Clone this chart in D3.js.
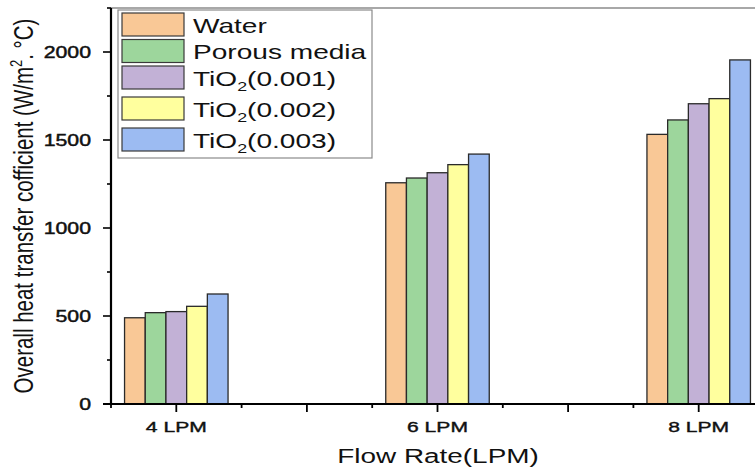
<!DOCTYPE html>
<html>
<head>
<meta charset="utf-8">
<script src="https://cdn.jsdelivr.net/npm/d3@7"></script>
<style>
  body { margin: 0; background: #fff; }
  svg { display: block; font-family: "Liberation Sans", Arial, sans-serif; }
</style>
</head>
<body>
<svg id="chart"></svg>
<script>
// data
const flowRates = [4, 6, 8];
const flowLabels = ["4 LPM", "6 LPM", "8 LPM"];
const seriesNames = ["Water", "Porous media", "TiO2(0.001)", "TiO2(0.002)", "TiO2(0.003)"];
const seriesColors = ["#f9c896", "#9dd69c", "#c2b1d6", "#ffff9e", "#9cbbf2"];
const water = [490, 1257, 1532];
const porousMedia = [519, 1284, 1614];
const tio2_001 = [525, 1314, 1706];
const tio2_002 = [555, 1360, 1735];
const tio2_003 = [625, 1420, 1955];
const seriesValues = [water, porousMedia, tio2_001, tio2_002, tio2_003];
const yMajorTicks = [0, 500, 1000, 1500, 2000];

const W = 755, H = 470;
const stretch = 1.33; // text in the original is drawn wider than tall

const svg = d3.select("#chart").attr("width", W).attr("height", H);

// scales
const x = d3.scaleLinear().domain([3.5, 8.5]).range([111, 764]);
const y = d3.scaleLinear().domain([0, 2250]).range([404, 8]);
const groupHalf = 51.75;
const inner = d3.scaleBand().domain(d3.range(seriesNames.length)).range([-groupHalf, groupHalf]);

// top frame line
svg.append("line")
    .attr("x1", x(3.5)).attr("x2", W)
    .attr("y1", y(2250)).attr("y2", y(2250))
    .attr("stroke", "#a8a8a8").attr("stroke-width", 2);

// bars
const rows = flowRates.map((f, i) => ({flow: f, values: seriesValues.map(s => s[i])}));
const groups = svg.append("g").selectAll("g")
    .data(rows)
    .join("g")
    .attr("transform", d => `translate(${x(d.flow)},0)`);

groups.selectAll("rect")
    .data(d => d.values.map((v, k) => ({k, v})))
    .join("rect")
    .attr("x", d => inner(d.k))
    .attr("width", inner.bandwidth())
    .attr("y", d => y(d.v))
    .attr("height", d => y(0) - y(d.v))
    .attr("fill", d => seriesColors[d.k])
    .attr("stroke", "#2a2a2a")
    .attr("stroke-width", 1.3);

// y axis
const yAxisG = svg.append("g");
yAxisG.append("line")
    .attr("x1", x(3.5)).attr("x2", x(3.5))
    .attr("y1", y(2250)).attr("y2", y(0) + 1)
    .attr("stroke", "#000").attr("stroke-width", 2.2);
const yMinor = d3.range(250, 2251, 500);
yAxisG.selectAll(".ymaj").data(yMajorTicks).join("line")
    .attr("x1", x(3.5) - 8).attr("x2", x(3.5))
    .attr("y1", d => y(d)).attr("y2", d => y(d))
    .attr("stroke", "#000").attr("stroke-width", 1.6);
yAxisG.selectAll(".ymin").data(yMinor).join("line")
    .attr("x1", x(3.5) - 4).attr("x2", x(3.5))
    .attr("y1", d => y(d)).attr("y2", d => y(d))
    .attr("stroke", "#000").attr("stroke-width", 1.6);
yAxisG.selectAll("text").data(yMajorTicks).join("text")
    .attr("transform", d => `translate(91,${y(d) + 5.8}) scale(${stretch},1)`)
    .attr("text-anchor", "end")
    .attr("font-size", 16)
    .attr("fill", "#111")
    .attr("stroke", "#111").attr("stroke-width", 0.45)
    .text(d => d);

// x axis
const xAxisG = svg.append("g");
xAxisG.append("line")
    .attr("x1", x(3.5) - 8).attr("x2", W)
    .attr("y1", y(0)).attr("y2", y(0))
    .attr("stroke", "#000").attr("stroke-width", 2);
const xMajor = d3.range(4, 8.01, 1);
const xMinor = d3.range(3.5, 8.51, 1);
xAxisG.selectAll(".xmaj").data(xMajor).join("line")
    .attr("x1", d => x(d)).attr("x2", d => x(d))
    .attr("y1", y(0)).attr("y2", y(0) + 8)
    .attr("stroke", "#000").attr("stroke-width", 1.8);
xAxisG.selectAll(".xmin").data(xMinor).join("line")
    .attr("x1", d => x(d)).attr("x2", d => x(d))
    .attr("y1", y(0)).attr("y2", y(0) + 4)
    .attr("stroke", "#000").attr("stroke-width", 1.8);
xAxisG.selectAll("text").data(flowRates).join("text")
    .attr("transform", d => `translate(${x(d)},431.5) scale(1.36,1)`)
    .attr("text-anchor", "middle")
    .attr("font-size", 15.5)
    .attr("fill", "#111")
    .attr("stroke", "#111").attr("stroke-width", 0.4)
    .text((d, i) => flowLabels[i]);

// axis titles
svg.append("text")
    .attr("transform", `translate(438,462.5) scale(${stretch},1)`)
    .attr("text-anchor", "middle")
    .attr("font-size", 21)
    .attr("fill", "#111")
    .text("Flow Rate(LPM)");

const yTitle = svg.append("text")
    .attr("transform", `translate(33,206) scale(${stretch},1) rotate(-90)`)
    .attr("text-anchor", "middle")
    .attr("font-size", 20.5)
    .attr("fill", "#111");
yTitle.append("tspan").text("Overall heat transfer cofficient (W/m");
yTitle.append("tspan").attr("font-size", 13).attr("dy", -8).text("2");
yTitle.append("tspan").attr("dy", 8).text(". °C)");

// legend
const legend = svg.append("g");
legend.append("rect")
    .attr("x", 118).attr("y", 10)
    .attr("width", 254).attr("height", 148)
    .attr("fill", "#fff")
    .attr("stroke", "#8a8a8a").attr("stroke-width", 1.2);

let rowTop = 13;
seriesNames.forEach((name, i) => {
    const hasSub = name.startsWith("TiO2");
    const g = legend.append("g").attr("transform", `translate(122,${rowTop})`);
    g.append("rect")
        .attr("width", 62).attr("height", 23)
        .attr("fill", seriesColors[i])
        .attr("stroke", "#3a3a3a").attr("stroke-width", 1.2);
    const t = g.append("text")
        .attr("transform", `translate(71,19.5) scale(1.37,1)`)
        .attr("font-size", 20.5)
        .attr("fill", "#111");
    if (hasSub) {
        t.append("tspan").text("TiO");
        t.append("tspan").attr("font-size", 13).attr("dy", 5).text("2");
        t.append("tspan").attr("dy", -5).text(name.slice(4));
    } else {
        t.text(name);
    }
    rowTop += hasSub ? 31 : 26.5;
});
</script>
</body>
</html>
